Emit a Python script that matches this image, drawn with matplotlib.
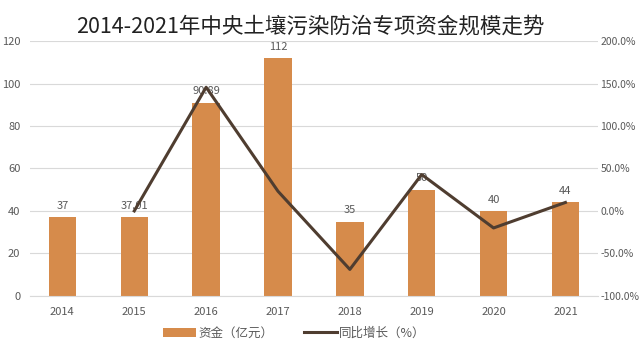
import numpy as np
import matplotlib
matplotlib.use("Agg")
from matplotlib import pyplot as plt
from matplotlib.ticker import FuncFormatter

plt.rcParams['font.family'] = ['Noto Sans CJK SC', 'DejaVu Sans']

# data
years = ["2014", "2015", "2016", "2017", "2018", "2019", "2020", "2021"]
funds = [37, 37.01, 90.89, 112, 35, 50, 40, 44]
fund_labels = ["37", "37.01", "90.89", "112", "35", "50", "40", "44"]
growth_years = years[1:]
growth = [0.03, 145.6, 23.2, -68.8, 42.9, -20.0, 10.0]

bar_color = "#D68B4B"
line_color = "#4F3D30"
text_color = "#595959"

fig = plt.figure(figsize=(6.4, 3.6), dpi=100)
ax = fig.add_axes([0.047, 0.178, 0.887, 0.708])
x = np.arange(len(years))

ax.bar(x, funds, width=0.38, color=bar_color, zorder=2, label="资金（亿元）")
for xi, v, s in zip(x, funds, fund_labels):
    ax.text(xi, v + 3, s, ha="center", va="bottom", fontsize=8, color=text_color, zorder=4)

ax.set_ylim(0, 120)
ax.set_yticks(range(0, 121, 20))
ax.set_xlim(-0.45, len(years) - 0.55)
ax.set_xticks(x)
ax.set_xticklabels(years)
ax.grid(axis="y", color="#D9D9D9", linewidth=0.8, zorder=0)
ax.set_axisbelow(True)
ax.tick_params(length=0, colors=text_color, labelsize=8)
ax.tick_params(axis="y", pad=7)
ax.tick_params(axis="x", pad=8)
for sp in ["top", "left", "right"]:
    ax.spines[sp].set_visible(False)
ax.spines["bottom"].set_color("#D9D9D9")

ax2 = ax.twinx()
gx = np.arange(1, len(years))
ax2.plot(gx, growth, color=line_color, linewidth=2.2, zorder=3, label="同比增长（%）")
ax2.set_ylim(-100, 200)
ax2.set_yticks(range(-100, 201, 50))
ax2.yaxis.set_major_formatter(FuncFormatter(lambda v, p: f"{v:.1f}%"))
ax2.tick_params(length=0, colors=text_color, labelsize=7.5, pad=2)
for sp in ax2.spines.values():
    sp.set_visible(False)

h1, l1 = ax.get_legend_handles_labels()
h2, l2 = ax2.get_legend_handles_labels()
fig.legend(h1 + h2, l1 + l2, loc="center", bbox_to_anchor=(0.46, 0.075), ncol=2,
           frameon=False, fontsize=9, labelcolor=text_color, handlelength=2.6,
           columnspacing=2.5, handletextpad=0.2)

fig.text(0.485, 0.925, "2014-2021年中央土壤污染防治专项资金规模走势", ha="center",
         va="center", fontsize=15.5, color="#222222")

fig.savefig("out.png", dpi=100)
